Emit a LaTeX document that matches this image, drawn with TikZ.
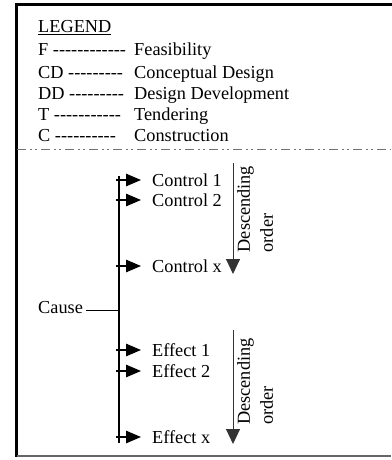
\documentclass[tikz,border=0pt]{standalone}
\usepackage{fontspec}
\setmainfont{Liberation Serif}[Ligatures=TeXOff]
\usetikzlibrary{arrows.meta}

\tikzset{
  txt/.style={inner sep=0pt, font=\fontsize{18.3}{22}\selectfont, text height=12.5pt, text depth=0pt},
  legendrow/.style={txt, anchor=base west},
  item/.style={txt, anchor=west},
  rottxt/.style={inner sep=0pt, font=\fontsize{18.3}{23}\selectfont, align=left, rotate=90, anchor=north west},
  branch/.style={line width=1.3pt, -{Triangle[length=15pt,width=12.5pt]}, shorten >=11pt},
  orderarrow/.style={line width=0.9pt, draw=black!80, -{Triangle[length=15pt,width=14pt]}},
  frame/.style={line cap=rect},
}

\begin{document}
\begin{tikzpicture}[x=1pt, y=-1pt]
  \useasboundingbox (0,0) rectangle (391,460);

  % outer frame: heavy top and left, light bottom
  \draw[frame, line width=2.8pt] (16.5,4.8) -- (391,4.8);
  \draw[frame, line width=2.8pt] (16.5,4.8) -- (16.5,456);
  \draw[line width=1.2pt, draw=black!60] (16.5,456) -- (391,456);

  % legend
  \node[legendrow] (lg) at (38,33) {\underline{LEGEND}};
  \node[legendrow] (kF)  at (38,56)  {F ------------};
  \node[legendrow] (kCD) at (38,78)  {CD ---------};
  \node[legendrow] (kDD) at (38,99)  {DD ---------};
  \node[legendrow] (kT)  at (38,120) {T -----------};
  \node[legendrow] (kC)  at (38,141) {C ----------};
  \node[legendrow] (vF)  at (134,56)  {Feasibility};
  \node[legendrow] (vCD) at (134,78)  {Conceptual Design};
  \node[legendrow] (vDD) at (134,99)  {Design Development};
  \node[legendrow] (vT)  at (134,120) {Tendering};
  \node[legendrow] (vC)  at (134,141) {Construction};

  % dash-dot separator
  \draw[line width=1.3pt, draw=black!55,
        dash pattern=on 9pt off 4pt on 1.5pt off 3.5pt on 1.5pt off 4.5pt]
        (17,149.5) -- (391,149.5);

  % spine
  \coordinate (spinetop) at (119,176);
  \coordinate (spinebot) at (119,443);
  \draw[line width=2pt] (spinetop) -- (spinebot);

  % controls
  \node[item] (c1) at (152,180) {Control 1};
  \node[item] (c2) at (152,200) {Control 2};
  \node[item] (cx) at (152,266) {Control x};
  \coordinate (s1) at (116,180);
  \coordinate (s2) at (116,200);
  \coordinate (sx) at (116,266);
  \draw[branch] (s1) -- (c1.west);
  \draw[branch] (s2) -- (c2.west);
  \draw[branch] (sx) -- (cx.west);

  % cause
  \node[legendrow] (cause) at (38,313) {Cause};
  \draw[line width=1pt] ([xshift=3pt,yshift=3pt]cause.base east) -- ([yshift=3pt]cause.base east -| spinetop);

  % effects
  \node[item] (e1) at (152,350) {Effect 1};
  \node[item] (e2) at (152,371) {Effect 2};
  \node[item] (ex) at (152,437) {Effect x};
  \coordinate (t1) at (116,350);
  \coordinate (t2) at (116,371);
  \coordinate (tx) at (116,437);
  \draw[branch] (t1) -- (e1.west);
  \draw[branch] (t2) -- (e2.west);
  \draw[branch] (tx) -- (ex.west);

  % descending-order indicators
  \coordinate (o1top) at (233,163);
  \coordinate (o1tip) at (233,274);
  \draw[orderarrow] (o1top) -- (o1tip);
  \node[rottxt] (o1txt) at (237,252.5) {Descending\\order};

  \coordinate (o2top) at (233,330);
  \coordinate (o2tip) at (233,444);
  \draw[orderarrow] (o2top) -- (o2tip);
  \node[rottxt] (o2txt) at (237,425) {Descending\\order};
\end{tikzpicture}
\end{document}
